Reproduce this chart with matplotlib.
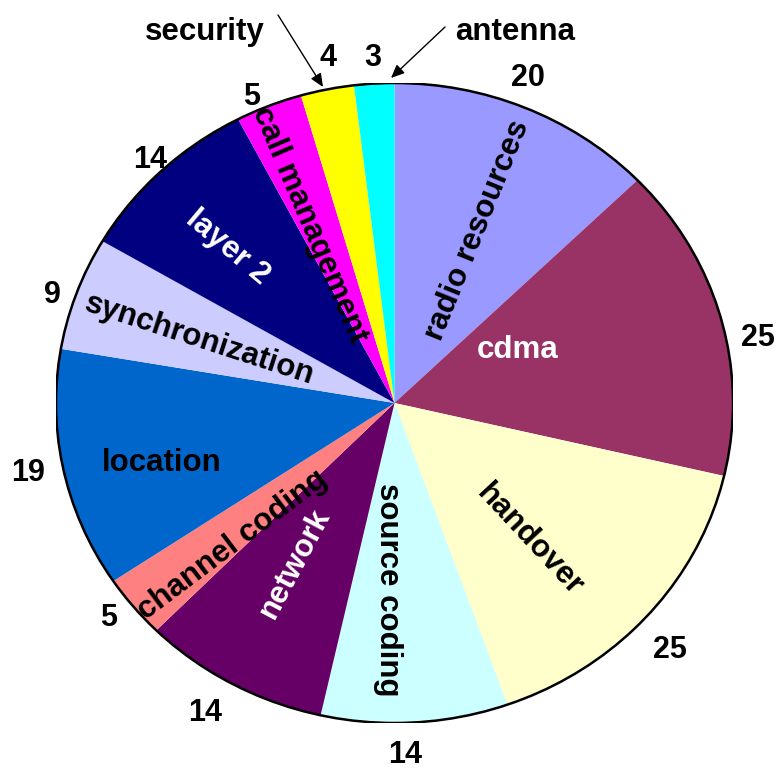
import matplotlib
matplotlib.use("Agg")
import matplotlib.pyplot as plt
from matplotlib.patches import Ellipse

categories = ["radio resources", "cdma", "handover", "source coding", "network",
              "channel coding", "location", "synchronization", "layer 2",
              "call management", "security", "antenna"]
values = [20, 25, 25, 14, 14, 5, 19, 9, 14, 5, 4, 3]
colors = ["#9999FF", "#993366", "#FFFFCC", "#CCFFFF", "#660066", "#FF8080",
          "#0066CC", "#CCCCFF", "#000080", "#FF00FF", "#FFFF00", "#00FFFF"]

# label placement styles (normalized axes data coords, rotation, text colour)
label_xy = [(0.244, 0.541), (0.365, 0.166), (0.40, -0.428), (-0.019, -0.584),
            (-0.294, -0.50), (-0.48, -0.444), (-0.687, -0.1875), (-0.575, 0.197),
            (-0.492, 0.4875), (-0.25, 0.556), None, None]
label_rot = [68, 0, -47, -90, 62, 37, 0, -18, -40, -67, 0, 0]
label_col = ["black", "white", "black", "black", "white", "black", "black",
             "black", "white", "black", "black", "black"]
value_xy = [(0.394, 1.016), (1.075, 0.203), (0.814, -0.772), (0.031, -1.100),
            (-0.560, -0.969), (-0.846, -0.672), (-1.083, -0.219), (-1.012, 0.3375),
            (-0.722, 0.759), (-0.421, 0.956), (-0.195, 1.078), (-0.064, 1.078)]

FONT = "Liberation Sans"
W, H = 778, 769
fig = plt.figure(figsize=(W / 100, H / 100), dpi=100)
left, right, top, bottom = 56, 733, 83, 723
ax = fig.add_axes([left / W, (H - bottom) / H, (right - left) / W, (bottom - top) / H])

wedges, _ = ax.pie(values, colors=colors, startangle=90, counterclock=False,
                   radius=1.0, wedgeprops=dict(linewidth=0, edgecolor="none"))
ax.set_aspect("auto")
ax.set_xlim(-1, 1)
ax.set_ylim(-1, 1)
ax.axis("off")

# outer outline
ax.add_patch(Ellipse((0, 0), 2, 2, fill=False, edgecolor="black", linewidth=1.8, zorder=5))

# value labels outside
for v, xy in zip(values, value_xy):
    ax.text(xy[0], xy[1], str(v), ha="center", va="center",
            fontsize=22, fontweight="bold", family=FONT, color="black")

# category labels inside
for name, xy, rot, col in zip(categories, label_xy, label_rot, label_col):
    if xy is None:
        continue
    ax.text(xy[0], xy[1], name, ha="center", va="center", rotation=rot,
            rotation_mode="anchor", fontsize=22.5, fontweight="bold", family=FONT,
            color=col)

# callouts for small slices
fig.text(205 / W, 1 - 32 / H, "security", ha="center", va="center",
         fontsize=22.5, fontweight="bold", family=FONT)
fig.text(515 / W, 1 - 32 / H, "antenna", ha="center", va="center",
         fontsize=22.5, fontweight="bold", family=FONT)
arrow = dict(arrowstyle="-|>,head_length=0.8,head_width=0.35", color="black", lw=1.0,
             shrinkA=0, shrinkB=0)
ax.annotate("", xy=(323, H - 87), xycoords="figure pixels",
            xytext=(278, H - 15), textcoords="figure pixels", arrowprops=arrow)
ax.annotate("", xy=(391, H - 78), xycoords="figure pixels",
            xytext=(445, H - 27), textcoords="figure pixels", arrowprops=arrow)

fig.savefig("out.png", dpi=100)
